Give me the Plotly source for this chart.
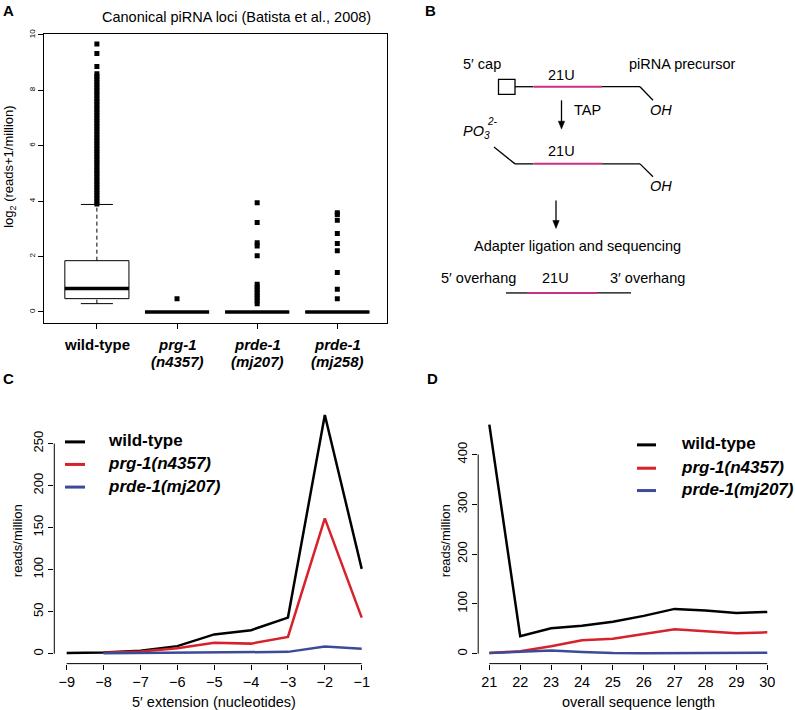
import plotly.graph_objects as go

W, H = 795, 710
FONT = "Liberation Sans, Arial, Helvetica, sans-serif"


def X(px):
    return px / W


def Y(py):
    return 1 - py / H


# ---------------- Panel A data (box-plot statistics) ----------------
group_names = ["wild-type", "prg-1", "prde-1", "prde-1"]
group_alleles = ["", "(n4357)", "(mj207)", "(mj258)"]
group_pos = [1, 2, 3, 4]
box_q1 = [0.48, 0, 0, 0]
box_median = [0.85, 0, 0, 0]
box_q3 = [1.85, 0, 0, 0]
whisker_lo = [0.30, 0, 0, 0]
whisker_hi = [3.88, 0, 0, 0]
outliers_wt = [3.9, 4.0, 4.1, 4.2, 4.3, 4.4, 4.5, 4.6, 4.7, 4.8, 4.9, 5.0, 5.1,
               5.2, 5.3, 5.4, 5.5, 5.6, 5.7, 5.8, 5.9, 6.0, 6.1, 6.2, 6.3, 6.4,
               6.5, 6.6, 6.7, 6.8, 6.9, 7.0, 7.1, 7.2, 7.3, 7.4, 7.5, 7.6, 7.7,
               7.8, 7.9, 8.0, 8.1, 8.2, 8.3, 8.4, 8.5, 8.6, 8.86, 9.33, 9.67]
outliers_prg1 = [0.48]
outliers_mj207 = [0.3, 0.4, 0.5, 0.6, 0.7, 0.8, 0.9, 1.0, 2.03, 2.38, 2.5, 3.23, 3.94]
outliers_mj258 = [0.48, 0.82, 1.42, 2.21, 2.47, 2.83, 3.31, 3.52, 3.58]
outliers_all = [outliers_wt, outliers_prg1, outliers_mj207, outliers_mj258]
a_yticks = [0, 2, 4, 6, 8, 10]

# ---------------- Panel C data ----------------
ext_x = [-9, -8, -7, -6, -5, -4, -3, -2, -1]
ext_ticktext = ["\u22129", "\u22128", "\u22127", "\u22126", "\u22125",
                "\u22124", "\u22123", "\u22122", "\u22121"]
ext_wt = [0.8, 1.5, 3.5, 9, 23, 28, 43, 284, 101]
ext_prg1 = [None, 1, 2.5, 6.5, 13, 12, 20, 161, 43]
ext_prde1 = [None, 0.5, 0.8, 1.2, 1.4, 1.6, 2.2, 8.5, 6]
c_yticks = [0, 50, 100, 150, 200, 250]

# ---------------- Panel D data ----------------
len_x = [21, 22, 23, 24, 25, 26, 27, 28, 29, 30]
len_wt = [460, 35, 51, 56, 64, 76, 90, 87, 82, 84]
len_prg1 = [1.5, 5, 15, 27, 30, 39, 49, 45, 41, 43]
len_prde1 = [1.5, 4.5, 6.5, 3.5, 1.2, 1, 1, 1.2, 2, 2]
d_yticks = [0, 100, 200, 300, 400]

series_names = ["<b>wild-type</b>", "<b><i>prg-1(n4357)</i></b>", "<b><i>prde-1(mj207)</i></b>"]
series_colors = ["#000000", "#d6222a", "#3c4b98"]
MAGENTA = "#c8318a"

fig = go.Figure()

# ---------------- Panel A traces ----------------
half = 0.4
for i, p in enumerate(group_pos):
    # box outline
    fig.add_trace(go.Scatter(
        x=[p - half, p + half, p + half, p - half, p - half],
        y=[box_q1[i], box_q1[i], box_q3[i], box_q3[i], box_q1[i]],
        mode="lines", line=dict(color="black", width=1),
        xaxis="x", yaxis="y", showlegend=False, hoverinfo="skip"))
    # whiskers (dashed) and staples
    if whisker_hi[i] > box_q3[i]:
        fig.add_trace(go.Scatter(x=[p, p], y=[box_q3[i], whisker_hi[i]], mode="lines",
                                 line=dict(color="black", width=1, dash="4px,3px"),
                                 xaxis="x", yaxis="y", showlegend=False))
        fig.add_trace(go.Scatter(x=[p - half / 2, p + half / 2], y=[whisker_hi[i]] * 2, mode="lines",
                                 line=dict(color="black", width=1),
                                 xaxis="x", yaxis="y", showlegend=False))
    if whisker_lo[i] < box_q1[i]:
        fig.add_trace(go.Scatter(x=[p, p], y=[whisker_lo[i], box_q1[i]], mode="lines",
                                 line=dict(color="black", width=1, dash="4px,3px"),
                                 xaxis="x", yaxis="y", showlegend=False))
        fig.add_trace(go.Scatter(x=[p - half / 2, p + half / 2], y=[whisker_lo[i]] * 2, mode="lines",
                                 line=dict(color="black", width=1),
                                 xaxis="x", yaxis="y", showlegend=False))
    # median
    fig.add_trace(go.Scatter(x=[p - half, p + half], y=[box_median[i]] * 2, mode="lines",
                             line=dict(color="black", width=3.5),
                             xaxis="x", yaxis="y", showlegend=False))
    # outliers
    fig.add_trace(go.Scatter(x=[p] * len(outliers_all[i]), y=outliers_all[i], mode="markers",
                             marker=dict(symbol="square", size=5, color="black"),
                             xaxis="x", yaxis="y", showlegend=False))

# ---------------- Panel C & D traces ----------------
for vals, col in zip([ext_wt, ext_prg1, ext_prde1], series_colors):
    fig.add_trace(go.Scatter(x=ext_x, y=vals, mode="lines", line=dict(color=col, width=2.5),
                             xaxis="x2", yaxis="y2", showlegend=False))
for vals, col in zip([len_wt, len_prg1, len_prde1], series_colors):
    fig.add_trace(go.Scatter(x=len_x, y=vals, mode="lines", line=dict(color=col, width=2.5),
                             xaxis="x3", yaxis="y3", showlegend=False))

axis_common = dict(showgrid=False, zeroline=False, ticks="outside", ticklen=5,
                   tickcolor="black", tickwidth=1, color="black")

fig.update_layout(
    width=W, height=H, margin=dict(l=0, r=0, t=0, b=0),
    paper_bgcolor="white", plot_bgcolor="white",
    font=dict(family=FONT, color="black"),
    showlegend=False,
    xaxis=dict(domain=[X(44), X(387)], range=[0.34, 4.62], anchor="y",
               showline=True, mirror=True, linecolor="black", linewidth=1,
               tickvals=group_pos, showticklabels=False, **axis_common),
    yaxis=dict(domain=[Y(320), Y(29)], range=[-0.39, 10.04], anchor="x",
               showline=True, mirror=True, linecolor="black", linewidth=1,
               tickvals=a_yticks, tickangle=-90, tickfont=dict(size=8), **axis_common),
    xaxis2=dict(domain=[X(54.3), X(374.1)], range=[-9.336, -0.664], anchor="y2",
                showline=False, tickvals=ext_x, ticktext=ext_ticktext,
                tickfont=dict(size=14.5), **axis_common),
    yaxis2=dict(domain=[Y(663.3), Y(402.7)], range=[-11.8, 296.1], anchor="x2",
                showline=False, tickvals=c_yticks, tickangle=-90,
                tickfont=dict(size=13), **axis_common),
    xaxis3=dict(domain=[X(478.2), X(778.4)], range=[20.64, 30.36], anchor="y3",
                showline=False, tickvals=len_x, tickfont=dict(size=14.5), **axis_common),
    yaxis3=dict(domain=[Y(663.3), Y(413.5)], range=[-19.9, 478.2], anchor="x3",
                showline=False, tickvals=d_yticks, tickangle=-90,
                tickfont=dict(size=13), **axis_common),
)

shapes = []
# R-style axis lines for C and D (span first to last tick)
shapes.append(dict(type="line", xref="x2", yref="y2 domain", x0=ext_x[0], x1=ext_x[-1], y0=0, y1=0,
                   line=dict(color="black", width=1)))
shapes.append(dict(type="line", xref="x2 domain", yref="y2", x0=0, x1=0, y0=c_yticks[0], y1=c_yticks[-1],
                   line=dict(color="black", width=1)))
shapes.append(dict(type="line", xref="x3", yref="y3 domain", x0=len_x[0], x1=len_x[-1], y0=0, y1=0,
                   line=dict(color="black", width=1)))
shapes.append(dict(type="line", xref="x3 domain", yref="y3", x0=0, x1=0, y0=d_yticks[0], y1=d_yticks[-1],
                   line=dict(color="black", width=1)))

annotations = []


def txt(text, x, y, size=14, xanchor="center", angle=0):
    annotations.append(dict(text=text, x=X(x), y=Y(y), xref="paper", yref="paper",
                            xanchor=xanchor, yanchor="middle", showarrow=False,
                            textangle=angle, font=dict(size=size, family=FONT, color="black")))


# Panel labels
txt("<b>A</b>", 8.5, 6, size=15)
txt("<b>B</b>", 430.5, 6, size=15)
txt("<b>C</b>", 8.5, 376, size=15)
txt("<b>D</b>", 432, 376, size=15)

# Panel A texts
txt("Canonical piRNA loci (Batista et al., 2008)", 236, 12, size=14.5)
txt("log<sub>2</sub> (reads+1/million)", 10, 163, size=13, angle=-90)
for i, p in enumerate(group_pos):
    name = "<b>%s</b>" % group_names[i] if i == 0 else "<b><i>%s</i></b>" % group_names[i]
    annotations.append(dict(text=name, x=p, y=Y(341.5), xref="x", yref="paper",
                            showarrow=False, xanchor="center", yanchor="middle",
                            font=dict(size=15, family=FONT, color="black")))
    if group_alleles[i]:
        annotations.append(dict(text="<b><i>%s</i></b>" % group_alleles[i], x=p, y=Y(359),
                                xref="x", yref="paper", showarrow=False,
                                xanchor="center", yanchor="middle",
                                font=dict(size=15, family=FONT, color="black")))

# Panel C texts + legend
txt("reads/million", 17, 540, size=13, angle=-90)
txt("5\u2032 extension (nucleotides)", 213.5, 701.5, size=14.5)
for k, ly in enumerate([440, 462.7, 485.5]):
    shapes.append(dict(type="line", xref="paper", yref="paper", x0=X(65), x1=X(85), y0=Y(ly), y1=Y(ly),
                       line=dict(color=series_colors[k], width=3)))
    txt(series_names[k], 106, ly - 1, size=17, xanchor="left")

# Panel D texts + legend
txt("reads/million", 445, 540, size=13, angle=-90)
txt("overall sequence length", 638.3, 701.5, size=14.5)
for k, ly in enumerate([443, 466.5, 489]):
    shapes.append(dict(type="line", xref="paper", yref="paper", x0=X(637), x1=X(656), y0=Y(ly), y1=Y(ly),
                       line=dict(color=series_colors[k], width=3)))
    txt(series_names[k], 679, ly - 1, size=17, xanchor="left")


# ---------------- Panel B diagram ----------------
def seg(x0, y0, x1, y1, color="black", width=1.3):
    shapes.append(dict(type="line", xref="paper", yref="paper", x0=X(x0), y0=Y(y0), x1=X(x1), y1=Y(y1),
                       line=dict(color=color, width=width)))


def down_arrow(x, y_top, y_tip):
    seg(x, y_top, x, y_tip - 6)
    path = "M %.5f %.5f L %.5f %.5f L %.5f %.5f Z" % (
        X(x - 3.2), Y(y_tip - 8), X(x + 3.2), Y(y_tip - 8), X(x), Y(y_tip))
    shapes.append(dict(type="path", xref="paper", yref="paper", path=path,
                       fillcolor="black", line=dict(color="black", width=0.5)))


shapes.append(dict(type="rect", xref="paper", yref="paper", x0=X(498.5), x1=X(515), y0=Y(90), y1=Y(75),
                   line=dict(color="black", width=1.3), fillcolor="white"))
seg(515, 82.3, 533.5, 82.3)
seg(533.5, 82.3, 602, 82.3, MAGENTA, 2)
seg(602, 82.3, 640, 82.3)
seg(640, 82.3, 653, 96)

seg(494, 143, 515, 160)
seg(515, 160, 533.5, 160)
seg(533.5, 160, 602, 160, MAGENTA, 2)
seg(602, 160, 640, 160)
seg(640, 160, 653, 173)

seg(506, 290, 527, 290)
seg(527, 290, 597, 290, MAGENTA, 2)
seg(597, 290, 631, 290)

down_arrow(561.5, 96, 125)
down_arrow(556, 197, 225)

txt("5\u2032 cap", 481.5, 59, size=14.5)
txt("piRNA precursor", 682.5, 59, size=14.5)
txt("21U", 561, 70, size=14.5)
txt("TAP", 587, 106, size=14.5)
txt("<i>OH</i>", 661, 106, size=14.5)
txt("<i>PO<sub>3</sub></i>", 476, 128, size=14.5)
txt("<i>2-</i>", 492, 117, size=10)
txt("21U", 561, 147, size=14.5)
txt("<i>OH</i>", 661, 182, size=14.5)
txt("Adapter ligation and sequencing", 577.5, 243, size=14.5)
txt("5\u2032 overhang", 478, 275, size=14.5)
txt("21U", 555.5, 275, size=14.5)
txt("3\u2032 overhang", 647.5, 275, size=14.5)

fig.update_layout(shapes=shapes, annotations=annotations)
fig.write_html("out.html", config={"displayModeBar": False},
               post_script="document.body.style.margin='0';")
